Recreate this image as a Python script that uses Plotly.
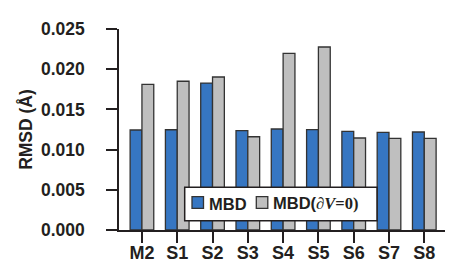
import plotly.graph_objects as go

categories = ["M2", "S1", "S2", "S3", "S4", "S5", "S6", "S7", "S8"]
mbd = [0.01244, 0.01247, 0.01828, 0.01235, 0.01256, 0.01248, 0.01227, 0.01215, 0.01219]
mbd_dv0 = [0.01812, 0.01850, 0.01903, 0.01160, 0.02197, 0.02276, 0.01144, 0.01140, 0.01140]
y_ticks = [0.000, 0.005, 0.010, 0.015, 0.020, 0.025]
y_tick_text = ["0.000", "0.005", "0.010", "0.015", "0.020", "0.025"]
series_names = ["MBD", "MBD(∂V=0)"]

FONT = "Liberation Sans, Arial, sans-serif"
SERIF = "Liberation Serif, Times New Roman, serif"
INK = "#231f20"
BLUE = "#3676c2"
GRAY = "#bfbfbf"
EDGE = "#333333"

# plot area in pixels (for placing the legend box)
W, H = 453, 276
L, R, T, B = 111, 12, 21, 54
PW, PH = W - L - R, H - T - B


def px(x):
    return (x - L) / PW


def py(y):
    return (H - B - y) / PH


fig = go.Figure()
fig.add_trace(go.Bar(
    x=categories, y=mbd, name=series_names[0],
    marker=dict(color=BLUE, line=dict(color=EDGE, width=1.3)),
))
fig.add_trace(go.Bar(
    x=categories, y=mbd_dv0, name=series_names[1],
    marker=dict(color=GRAY, line=dict(color=EDGE, width=1.3)),
))

# legend box drawn by hand to match the compact original layout
shapes = [
    dict(type="rect", xref="paper", yref="paper", x0=px(176.7), x1=px(369), y0=py(179.3), y1=py(212.7),
         fillcolor="white", line=dict(color=INK, width=1.5), layer="above"),
    dict(type="rect", xref="paper", yref="paper", x0=px(184), x1=px(195.5), y0=py(188.7), y1=py(200.3),
         fillcolor=BLUE, line=dict(color=EDGE, width=1.3), layer="above"),
    dict(type="rect", xref="paper", yref="paper", x0=px(248.3), x1=px(259.8), y0=py(188.7), y1=py(200.3),
         fillcolor=GRAY, line=dict(color=EDGE, width=1.3), layer="above"),
]
annotations = [
    dict(xref="paper", yref="paper", x=px(198.5), y=py(195.5), xanchor="left", yanchor="middle",
         text="<b>" + series_names[0] + "</b>", showarrow=False,
         font=dict(size=16.5, family=FONT, color=INK)),
    dict(xref="paper", yref="paper", x=px(262.5), y=py(195.5), xanchor="left", yanchor="middle",
         text="<b>MBD(</b><span style=\"font-family:" + SERIF + "\"><i>∂V</i>=0)</span>",
         showarrow=False, font=dict(size=16.5, family=FONT, color=INK)),
]

fig.update_layout(
    width=W, height=H,
    margin=dict(l=L, r=R, t=T, b=B),
    paper_bgcolor="white", plot_bgcolor="white",
    barmode="group", bargap=0.33, bargroupgap=0,
    font=dict(family=FONT, color=INK, weight="bold"),
    showlegend=False,
    shapes=shapes, annotations=annotations,
    xaxis=dict(
        range=[-0.65, 8.7], showline=True, linecolor=INK, linewidth=1.5,
        ticks="outside", ticklen=11, tickcolor=INK, tickwidth=1.5,
        tickfont=dict(size=18, family=FONT, color=INK, weight="bold"),
        showgrid=False, zeroline=False, ticklabelstandoff=-5,
    ),
    yaxis=dict(
        range=[0, 0.025], showline=True, linecolor=INK, linewidth=1.5,
        ticks="outside", ticklen=11, tickcolor=INK, tickwidth=1.5,
        tickvals=y_ticks, ticktext=y_tick_text,
        tickfont=dict(size=17.5, family=FONT, color=INK, weight="bold"),
        showgrid=False, zeroline=False, ticklabelstandoff=18,
        title=dict(text="<b>RMSD (Å)</b>", font=dict(size=17.5, family=FONT, color=INK, weight="bold"), standoff=4),
    ),
)

fig.write_html("out.html")
